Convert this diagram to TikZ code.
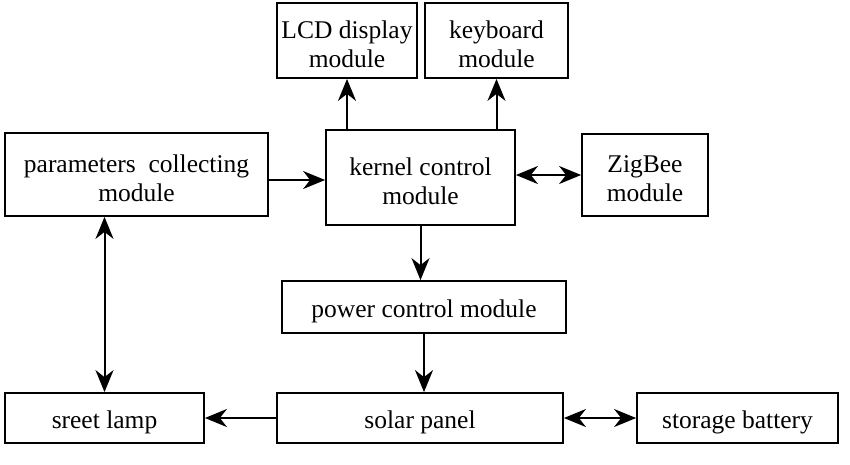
\documentclass[tikz,border=0pt]{standalone}
\usepackage{fontspec}
\setmainfont{Liberation Serif}
\usetikzlibrary{arrows.meta, positioning, calc}

\begin{document}
\begin{tikzpicture}[x=1pt, y=-1pt,
    font=\fontsize{25.5}{29}\selectfont,
    box/.style={draw, line width=1.8pt, inner sep=0pt, align=center},
    every label/.style={align=center, inner sep=0pt, yshift=-4pt},
    link/.style={line width=2pt, -{Stealth[length=22pt, width=18pt, inset=7pt]}},
    both/.style={link, {Stealth[length=22pt, width=18pt, inset=7pt]}-{Stealth[length=22pt, width=18pt, inset=7pt]}}]
                \useasboundingbox (0,0) rectangle (850,464);

                % upper row
                \node[box, minimum width=140pt, minimum height=75pt, label=center:{LCD display\\module}] (lcd) at (347,40.5) {};
                \node[box, minimum width=143pt, minimum height=75pt, label=center:{keyboard\\module}] (kbd) at (496.5,40.5) {};

                % middle row
                \node[box, minimum width=263pt, minimum height=83pt, label=center:{parameters\ \ collecting\\module}] (param) at (136.5,174.5) {};
                \node[box, minimum width=189pt, minimum height=95pt, label=center:{kernel control\\module}] (kernel) at (420.5,177.5) {};
                \node[box, minimum width=126pt, minimum height=82pt, label=center:{ZigBee\\module}] (zigbee) at (645,175) {};

                \node[box, minimum width=284pt, minimum height=52pt, label=center:{power control module}] (power) at (424,307) {};

                % lower row
                \node[box, minimum width=199pt, minimum height=50pt, label=center:{sreet lamp}] (lamp) at (104.5,418) {};
                \node[box, minimum width=286pt, minimum height=50pt, label=center:{solar panel}] (solar) at (420,418) {};
                \node[box, minimum width=201pt, minimum height=50pt, label=center:{storage battery}] (battery) at (737.5,418) {};

                % connectors
                \draw[link] (kernel.north -| lcd) -- (lcd.south);
                \draw[link] (kernel.north -| kbd) -- (kbd.south);
                \draw[link] ($(param.east)+(0,5.5)$) -- ($(param.east -| kernel.west)+(0,5.5)$);
                \draw[both] (zigbee.west -| kernel.east) -- (zigbee.west);
                \draw[link] (kernel.south) -- (kernel.south |- power.north);
                \draw[both] (lamp.north |- param.south) -- (lamp.north);
                \draw[link] (power.south) -- (power.south |- solar.north);
                \draw[link] (solar.west) -- (lamp.east);
                \draw[both] (solar.east) -- (battery.west);
            \end{tikzpicture}
\end{document}
